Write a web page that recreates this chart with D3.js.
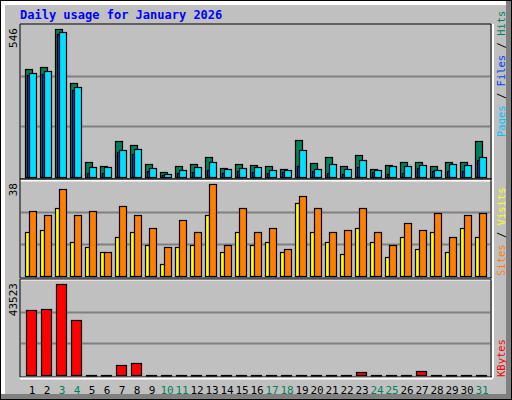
<!DOCTYPE html>
<html><head><meta charset="utf-8">
<script src="https://cdn.jsdelivr.net/npm/d3@7/dist/d3.min.js"></script>
<style>body{margin:0;background:#fff}svg{display:block}</style>
</head><body><svg id="c" width="512" height="400"></svg>
<script>
const days = d3.range(1, 32);
const weekendDays = [3,4,10,11,17,18,24,25,31];
const hits  = [387,394,530,336,53,40,128,114,46,17,38,46,71,31,46,42,38,28,132,49,71,38,78,28,42,53,53,38,53,53,128];
const files = [372,380,520,322,35,35,96,100,31,10,24,35,53,28,31,35,24,24,96,28,46,28,60,24,38,38,42,24,46,42,71];
const pages = [366,370,512,313,16,16,89,82,20,7,16,18,24,16,20,18,14,18,38,20,14,10,35,18,10,16,31,20,20,20,62];
const visits = [27,25,36,25,27,10,29,25,20,12,23,18,38,13,28,18,20,11,33,28,18,19,28,18,13,22,19,26,16,25,26];
const sites  = [18,19,28,14,12,10,16,18,13,5,12,13,25,10,18,13,14,10,30,18,14,9,20,14,8,16,11,18,10,20,16];
const kbytes = [31088,31566,43523,26306,0,0,4783,5739,0,0,0,0,0,0,0,0,0,0,0,0,0,0,1435,0,0,0,1913,0,0,0,0];
const maxLabels = ["546","38","43523"];

const svg = d3.select("#c");
const font = "'DejaVu Sans Mono', monospace";
// frame
svg.append("rect").attr("x",0).attr("y",0).attr("width",512).attr("height",400).attr("fill","#000");
svg.append("rect").attr("x",1).attr("y",1).attr("width",510).attr("height",398).attr("fill","#808080");
svg.append("rect").attr("x",1).attr("y",1).attr("width",505).attr("height",393).attr("fill","#fff");
svg.append("rect").attr("x",5).attr("y",5).attr("width",501).attr("height",389).attr("fill","#c0c0c0");

svg.append("text").attr("x",20).attr("y",19).attr("fill","#0000ff").attr("font-family",font)
  .attr("font-weight","bold").attr("font-size",12).text("Daily usage for January 2026");

const x = d3.scaleBand().domain(days).range([21,486]).paddingInner(0);
const panels = [
  {top:25, bottom:177, max:546, label:maxLabels[0]},
  {top:180, bottom:276, max:38*96/92, label:maxLabels[1]},
  {top:280, bottom:375, max:43523*95/91, label:maxLabels[2]}
];
panels.forEach(p => {
  p.y = d3.scaleLinear().domain([0,p.max]).range([p.bottom,p.top]);
  const g = svg.append("g");
  g.append("line").attr("x1",20).attr("x2",491).attr("y1",p.top-1).attr("y2",p.top-1).attr("stroke","#000");
  g.append("line").attr("x1",20).attr("x2",20).attr("y1",p.top-1).attr("y2",p.bottom+2).attr("stroke","#000");
  g.append("line").attr("x1",491).attr("x2",491).attr("y1",p.top-1).attr("y2",p.bottom+2).attr("stroke","#000");
  g.append("line").attr("x1",20).attr("x2",492).attr("y1",p.bottom+2).attr("y2",p.bottom+2).attr("stroke","#000");
  g.append("line").attr("x1",20).attr("x2",493).attr("y1",p.bottom+3.5).attr("y2",p.bottom+3.5).attr("stroke","#fff").attr("stroke-width",2);
  g.append("line").attr("x1",493).attr("x2",493).attr("y1",p.top-1).attr("y2",p.bottom+3).attr("stroke","#fff").attr("stroke-width",2);
  [1/3,2/3].forEach(f => {
    const yy = Math.round(p.bottom - (p.bottom-p.top)*f)+0.5;
    g.append("line").attr("x1",21).attr("x2",490).attr("y1",yy).attr("y2",yy).attr("stroke","#808080").attr("stroke-width",2);
  });
  g.append("text").attr("transform",`translate(17,${p.top+3}) rotate(-90)`).attr("text-anchor","end")
    .attr("font-family",font).attr("font-size",11).attr("fill","#000").text(p.label);
});

function bars(data, panel, dx, w, fill){
  const y = panel.y;
  svg.append("g").selectAll("rect").data(data).enter().append("rect")
    .attr("x",(d,i)=>x(days[i])+dx+0.5)
    .attr("y",d=>Math.round(y(d))+0.5)
    .attr("width",w)
    .attr("height",d=>Math.max(0.5, panel.bottom - Math.round(y(d))))
    .attr("fill",fill).attr("stroke","#000").attr("stroke-width",1.2);
}
bars(hits, panels[0], 4, 7, "#00805c");
bars(pages, panels[0], 6, 3, "#0040ff");
bars(files, panels[0], 8, 7, "#00e0ff");
bars(sites, panels[1], 4, 4, "#ffff00");
bars(visits, panels[1], 8, 7, "#ff8000");
bars(kbytes, panels[2], 5, 10, "#ff0000");

svg.append("g").selectAll("text").data(days).enter().append("text")
  .attr("x",d=>x(d)+11).attr("y",394).attr("text-anchor","middle")
  .attr("font-family",font).attr("font-size",11)
  .attr("fill",d=>weekendDays.includes(d)?"#00805c":"#000").text(d=>d);

function rlabel(yEnd, parts){
  const t = svg.append("text").attr("transform",`translate(505,${yEnd}) rotate(-90)`)
    .attr("font-family",font).attr("font-size",10.5);
  parts.forEach(([s,c]) => t.append("tspan").attr("fill",c).text(s));
}
rlabel(137, [["Pages","#00c0ff"],[" / ","#000"],["Files","#0040ff"],[" / ","#000"],["Hits","#00805c"]]);
rlabel(276, [["Sites","#ff8000"],[" / ","#000"],["Visits","#ffff00"]]);
rlabel(377, [["KBytes","#ff0000"]]);
</script></body></html>
